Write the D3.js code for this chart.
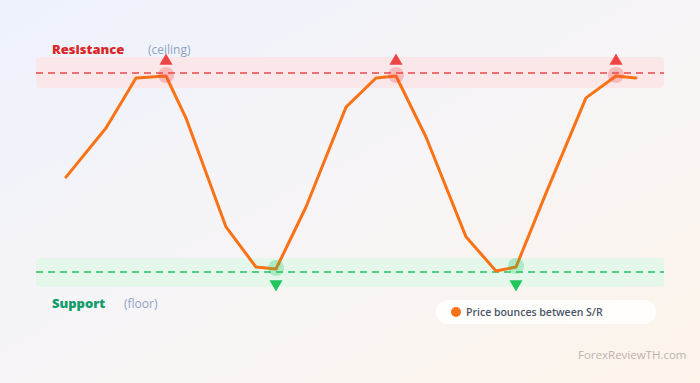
<!DOCTYPE html>
<html><head><meta charset="utf-8">
<script src="https://cdn.jsdelivr.net/npm/d3@7/dist/d3.min.js"></script>
<style>html,body{margin:0;padding:0;overflow:hidden;}svg{display:block;}</style>
</head><body>
<script>
// Data
const times = [0,4,7,10,12,16,19,21,24,28,31,33,36,40,43,45,48,52,55,57];
const prices = [48.6,63.4,78.5,79.1,66.4,33.6,21.5,20.9,39.6,69.7,78.5,79.1,60.7,30.6,20.3,21.5,43.8,72.5,79.1,78.5];
const resistanceLevel = 80;
const supportLevel = 20;
const resistanceTouches = [10,33,55];
const supportTouches = [21,45];
const labels = {res:"Resistance", resSub:"(ceiling)", sup:"Support", supSub:"(floor)", legend:"Price bounces between S/R", credit:"ForexReviewTH.com"};

const W=700,H=383;
const svg=d3.select("body").append("svg").attr("width",W).attr("height",H);
const defs=svg.append("defs");
const g=defs.append("linearGradient").attr("id","bg").attr("x1","0").attr("y1","0").attr("x2","1").attr("y2","1");
g.append("stop").attr("offset","0").attr("stop-color","#eef2fc");
g.append("stop").attr("offset","0.5").attr("stop-color","#f6f4f6");
g.append("stop").attr("offset","1").attr("stop-color","#fdf4ea");
svg.append("rect").attr("width",W).attr("height",H).attr("fill","url(#bg)");

const x=d3.scaleLinear().domain([0,57]).range([66,636]);
const y=d3.scaleLinear().domain([supportLevel,resistanceLevel]).range([272,73]);
const bandL=36,bandR=664;
const font="'Open Sans', 'Noto Sans', sans-serif";

// bands
svg.append("rect").attr("x",bandL).attr("y",y(resistanceLevel)-16).attr("width",bandR-bandL).attr("height",31)
  .attr("rx",4).attr("fill","#fbe5e7").attr("opacity",0.9);
svg.append("rect").attr("x",bandL).attr("y",y(supportLevel)-14).attr("width",bandR-bandL).attr("height",29)
  .attr("rx",4).attr("fill","#e3f7e9").attr("opacity",0.95);

// dashed lines
svg.append("line").attr("x1",bandL).attr("x2",bandR).attr("y1",y(resistanceLevel)).attr("y2",y(resistanceLevel))
  .attr("stroke","#ea4848").attr("stroke-width",1.6).attr("stroke-dasharray","7,5");
svg.append("line").attr("x1",bandL).attr("x2",bandR).attr("y1",y(supportLevel)).attr("y2",y(supportLevel))
  .attr("stroke","#22c55e").attr("stroke-width",1.6).attr("stroke-dasharray","7,5");

// price line
const line=d3.line().x((d,i)=>x(times[i])).y(d=>y(d));
svg.append("path").datum(prices).attr("d",line).attr("fill","none").attr("stroke","#f97316")
  .attr("stroke-width",3).attr("stroke-linejoin","round").attr("stroke-linecap","round");

// touch markers
const priceAt=t=>prices[times.indexOf(t)];
svg.selectAll(".rc").data(resistanceTouches).enter().append("circle")
  .attr("cx",d=>x(d)).attr("cy",d=>y(priceAt(d))-1).attr("r",8).attr("fill","#ef4444").attr("opacity",0.28);
svg.selectAll(".sc").data(supportTouches).enter().append("circle")
  .attr("cx",d=>x(d)).attr("cy",d=>y(priceAt(d))-1).attr("r",8).attr("fill","#22c55e").attr("opacity",0.28);
const tri=d3.symbol().type(d3.symbolTriangle).size(75);
svg.selectAll(".rt").data(resistanceTouches).enter().append("path").attr("d",tri)
  .attr("transform",d=>`translate(${x(d)},${y(resistanceLevel)-12})`).attr("fill","#ef4444");
svg.selectAll(".st").data(supportTouches).enter().append("path").attr("d",tri)
  .attr("transform",d=>`translate(${x(d)},${y(supportLevel)+12}) rotate(180)`).attr("fill","#22c55e");

// labels
svg.append("text").attr("x",52).attr("y",54).text(labels.res).attr("font-family",font)
  .attr("font-weight",800).attr("font-size",13).attr("fill","#dc2626");
svg.append("text").attr("x",148).attr("y",54).text(labels.resSub).attr("font-family",font)
  .attr("font-size",12).attr("fill","#8fa3c4");
svg.append("text").attr("x",52).attr("y",308).text(labels.sup).attr("font-family",font)
  .attr("font-weight",800).attr("font-size",13).attr("fill","#0f9a6a");
svg.append("text").attr("x",124).attr("y",308).text(labels.supSub).attr("font-family",font)
  .attr("font-size",12).attr("fill","#8fa3c4");

// legend
svg.append("rect").attr("x",436).attr("y",300).attr("width",220).attr("height",24).attr("rx",12)
  .attr("fill","#ffffff").attr("opacity",0.85);
svg.append("circle").attr("cx",456).attr("cy",312).attr("r",5).attr("fill","#f97316");
svg.append("text").attr("x",466).attr("y",316).text(labels.legend).attr("font-family",font)
  .attr("font-weight",600).attr("font-size",10.5).attr("fill","#4b5568");

// credit
svg.append("text").attr("x",578).attr("y",359).text(labels.credit).attr("font-family",font)
  .attr("font-size",11.5).attr("fill","#bdb3aa");
</script>
</body></html>
